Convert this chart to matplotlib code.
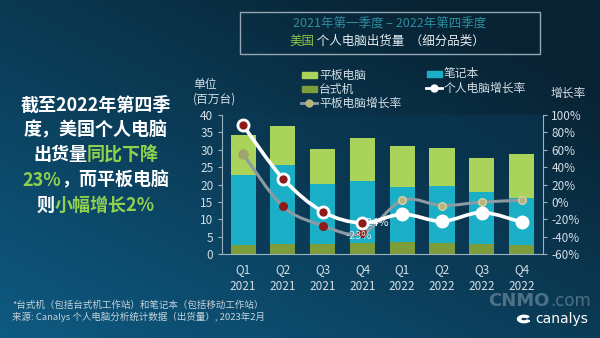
import numpy as np
import matplotlib
matplotlib.use('Agg')
import matplotlib.pyplot as plt
from matplotlib.path import Path
from matplotlib.patches import PathPatch, Rectangle, Wedge
from matplotlib.lines import Line2D

plt.rcParams['font.family'] = ['Noto Sans CJK SC', 'DejaVu Sans']

# US PC shipments by category, millions of units
quarters = ['Q1\n2021', 'Q2\n2021', 'Q3\n2021', 'Q4\n2021',
            'Q1\n2022', 'Q2\n2022', 'Q3\n2022', 'Q4\n2022']
desktop = [2.7, 3.0, 3.0, 3.2, 3.6, 3.2, 2.9, 2.7]
notebook = [20.1, 22.5, 17.2, 17.8, 15.8, 16.4, 14.9, 13.4]
tablet = [11.5, 11.3, 9.9, 12.5, 11.8, 10.8, 9.8, 12.7]
# year-on-year growth, %
pc_growth = [88, 27, -11, -24, -14, -22, -12, -23]
tablet_growth = [55, -5, -27, -36, 2, -4, 0, 2]

C_TABLET = '#a9d35b'
C_NOTE = '#1aafc7'
C_DESK = '#7d9c3a'
C_GREEN = '#8fd14f'
C_TXT = '#d3dee6'
C_AX = '#9db2bf'
C_RED = '#8e1b1b'

fig = plt.figure(figsize=(6, 3.38), dpi=100)

# background gradient: lighter teal bottom-left, dark top-right
bg = fig.add_axes([0, 0, 1, 1], zorder=-10)
gx, gy = np.meshgrid(np.linspace(0, 1, 300), np.linspace(0, 1, 170))
t = np.clip(0.55 * gx + 0.6 * (1 - gy), 0, 1)
c0 = np.array([0x0e, 0x5a, 0x82]) / 255
c1 = np.array([0x08, 0x22, 0x32]) / 255
img = c0[None, None, :] * (1 - t[..., None]) + c1[None, None, :] * t[..., None]
bg.imshow(img, aspect='auto', extent=[0, 1, 0, 1], origin='upper')
bg.axis('off')

ax = fig.add_axes([0.3695, 0.2476, 0.5355, 0.4122])
ax.set_facecolor((0.04, 0.22, 0.33, 0.55))
x = np.arange(len(quarters))
w = 0.63
ax.bar(x, desktop, w, color=C_DESK, zorder=2)
ax.bar(x, notebook, w, bottom=desktop, color=C_NOTE, zorder=2)
bottom2 = np.array(desktop) + np.array(notebook)
ax.bar(x, tablet, w, bottom=bottom2, color=C_TABLET, zorder=2)
ax.set_xlim(-0.54, 7.54)
ax.set_ylim(0, 40)
ax.set_yticks(range(0, 41, 5))
ax.set_xticks(x)
ax.set_xticklabels(quarters, linespacing=1.45)
for s in ['top', 'right']:
    ax.spines[s].set_visible(False)
for s in ['left', 'bottom']:
    ax.spines[s].set_color(C_AX)
ax.tick_params(axis='y', colors=C_TXT, labelsize=8.5, length=3, color=C_AX, pad=3)
ax.tick_params(axis='x', colors=C_TXT, labelsize=8.5, length=0, pad=6)

ax2 = ax.twinx()
ax2.set_ylim(-60, 100)
ax2.set_yticks(range(-60, 101, 20))
ax2.set_yticklabels([f'{v}%' for v in range(-60, 101, 20)])
for s in ['top', 'left', 'bottom']:
    ax2.spines[s].set_visible(False)
ax2.spines['right'].set_color(C_AX)
ax2.tick_params(axis='y', colors=C_TXT, labelsize=8.5, length=3, color=C_AX, pad=3)


def smooth_path(xs, ys, k=1 / 6):
    # Catmull-Rom segments expressed as cubic Bezier curves
    pts = np.column_stack([xs, ys]).astype(float)
    verts = [pts[0]]
    codes = [Path.MOVETO]
    n = len(pts)
    for i in range(n - 1):
        p0 = pts[max(i - 1, 0)]
        p1 = pts[i]
        p2 = pts[i + 1]
        p3 = pts[min(i + 2, n - 1)]
        verts += [p1 + (p2 - p0) * k, p2 - (p3 - p1) * k, p2]
        codes += [Path.CURVE4] * 3
    return Path(verts, codes)


ax2.add_patch(PathPatch(smooth_path(x, tablet_growth), fill=False,
                        edgecolor='#8c9ba3', lw=2.2, zorder=3))
ax2.add_patch(PathPatch(smooth_path(x, pc_growth), fill=False,
                        edgecolor='white', lw=2.6, zorder=4))

tab_face = ['#9fa46a', C_RED, C_RED, C_RED, '#b9b47c', '#b9b47c', '#b9b47c', '#b9b47c']
tab_edge = ['#9fa46a', C_RED, C_RED, C_RED, '#d5d2a8', '#d5d2a8', '#d5d2a8', '#d5d2a8']
pc_face = [C_RED, C_RED, C_RED, C_RED, 'white', 'white', 'white', 'white']
for i in range(len(x)):
    ax2.plot(x[i], tablet_growth[i], 'o', ms=6.5 if i == 0 else 5.5,
             mfc=tab_face[i], mec=tab_edge[i], mew=1, zorder=5)
    ax2.plot(x[i], pc_growth[i], 'o', ms=8, mfc=pc_face[i], mec='white',
             mew=2, zorder=6)

ax2.text(3.0, pc_growth[3], f'{pc_growth[3]}%', color='white', fontsize=8,
         va='center', ha='left', zorder=4)
ax2.text(2.9, -39, f'{pc_growth[7]}%', color='#d8e6ec', fontsize=8,
         va='center', ha='center', zorder=5)

# title box
fig.add_artist(Rectangle((0.40, 0.840), 0.50, 0.1245, transform=fig.transFigure,
                         fill=False, edgecolor='#93a8b4', lw=1))
fig.text(0.65, 0.929, '2021年第一季度 – 2022年第四季度', color='#2e8e9e',
         fontsize=9, ha='center', va='center')

renderer = fig.canvas.get_renderer()


def mixed_line(pieces, xc, y, size, weight='normal'):
    # lay out coloured fragments of one line, centred on xc (figure fraction)
    texts = [fig.text(0, y, s, color=c, fontsize=size, fontweight=weight,
                      ha='left', va='center') for s, c in pieces]
    widths = [t.get_window_extent(renderer).width / fig.bbox.width for t in texts]
    x0 = xc - sum(widths) / 2
    for t, wd in zip(texts, widths):
        t.set_x(x0)
        x0 += wd


mixed_line([('美国', '#8cc44a'), (' 个人电脑出货量  （细分品类）', '#e6edf1')],
           0.645, 0.879, 9)

# left-hand summary
W = 'white'
lines = [
    [('截至2022年第四季', W)],
    [('度，美国个人电脑', W)],
    [('出货量', W), ('同比下降', C_GREEN)],
    [('23%', C_GREEN), ('，而平板电脑', W)],
    [('则', W), ('小幅增长2%', C_GREEN)],
]
for k, ln in enumerate(lines):
    y = 1 - (105 + 25 * k) / 338
    mixed_line(ln, 0.16, y, 13, weight='bold')

# legend
def patch_item(xp, yp, color, label):
    fig.add_artist(Rectangle((xp / 600, 1 - (yp + 3) / 338), 15 / 600, 6 / 338,
                             transform=fig.transFigure, color=color))
    fig.text((xp + 17) / 600, 1 - yp / 338, label, color=C_TXT, fontsize=8.5,
             va='center', ha='left')


def line_item(xp, yp, lc, mc, label):
    yy = 1 - yp / 338
    fig.add_artist(Line2D([xp / 600, (xp + 16) / 600], [yy, yy],
                          transform=fig.transFigure, color=lc, lw=2))
    fig.add_artist(Line2D([(xp + 8) / 600], [yy], transform=fig.transFigure,
                          marker='o', ms=5, mfc=mc, mec=mc, lw=0))
    fig.text((xp + 18) / 600, yy, label, color=C_TXT, fontsize=8.5,
             va='center', ha='left')


patch_item(302, 75, C_TABLET, '平板电脑')
patch_item(302, 89, C_DESK, '台式机')
line_item(301, 103, '#8c9ba3', '#b9b47c', '平板电脑增长率')
patch_item(427, 74, C_NOTE, '笔记本')
line_item(426, 88, 'white', 'white', '个人电脑增长率')

fig.text(193 / 600, 1 - 92 / 338, '单位\n(百万台)', color=C_TXT, fontsize=8.5,
         ha='left', va='center', linespacing=1.2)
fig.text(568 / 600, 1 - 93 / 338, '增长率', color=C_TXT, fontsize=8.5,
         ha='center', va='center')

# footer
fig.text(12 / 600, 1 - 305 / 338, '*台式机（包括台式机工作站）和笔记本（包括移动工作站）',
         color='#c6d3db', fontsize=6.8, ha='left', va='center')
fig.text(12 / 600, 1 - 317 / 338, '来源: Canalys 个人电脑分析统计数据（出货量）, 2023年2月',
         color='#c6d3db', fontsize=6.8, ha='left', va='center')

# site watermark and logo
wm = fig.text(488 / 600, 1 - 301 / 338, 'CNMO', color='#9fb2c0', alpha=0.45,
              fontsize=13, fontweight='bold', family='DejaVu Sans',
              ha='left', va='center')
wm_w = wm.get_window_extent(renderer).width
fig.text((488 + wm_w + 1) / 600, 1 - 301 / 338, '.com', color='#9fb2c0',
         alpha=0.45, fontsize=12, family='DejaVu Sans', ha='left', va='center')
fig.add_artist(Wedge((524 / 600, 1 - 319 / 338), 6.5 / 600, 40, 330,
                     width=3 / 600, transform=fig.transFigure, color='white'))
fig.text(562 / 600, 1 - 319 / 338, 'canalys', color='white', fontsize=10,
         family='DejaVu Sans', ha='center', va='center')

fig.savefig('out.png', dpi=100)
